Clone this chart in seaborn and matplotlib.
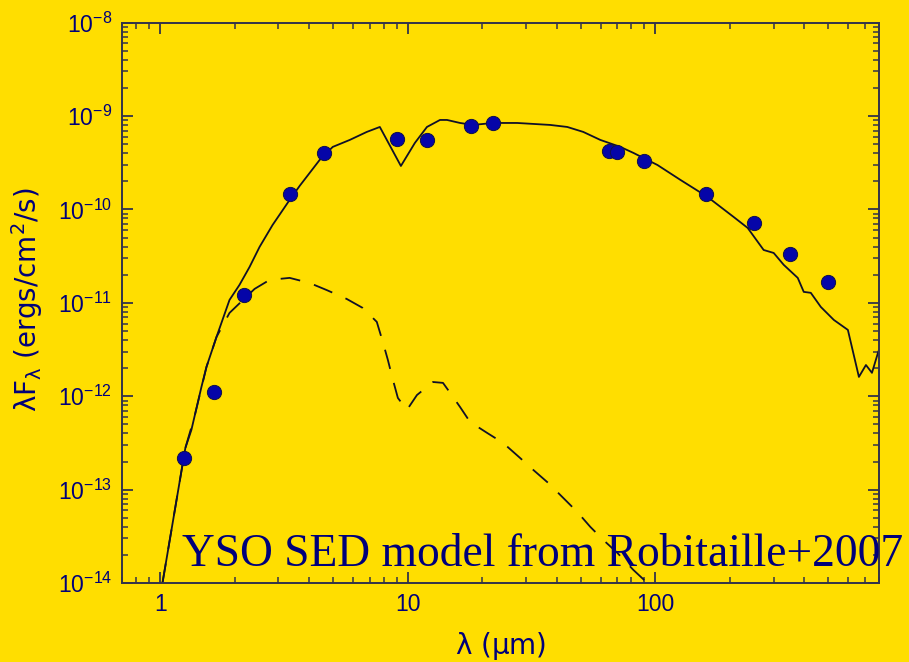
import numpy as np
import pandas as pd
import matplotlib
matplotlib.use("Agg")
import matplotlib.pyplot as plt
import seaborn as sns
from matplotlib.ticker import LogLocator, NullFormatter, FuncFormatter

# ---- data ----
obs_wavelength = [1.25, 1.65, 2.17, 3.35, 4.6, 9.0, 12.0, 18.0, 22.0,
                  65.0, 70.0, 90.0, 160.0, 250.0, 350.0, 500.0]
obs_flux = [2.2e-13, 1.1e-12, 1.22e-11, 1.47e-10, 4.0e-10, 5.7e-10, 5.5e-10,
            7.8e-10, 8.4e-10, 4.2e-10, 4.1e-10, 3.3e-10, 1.47e-10, 7.2e-11,
            3.3e-11, 1.67e-11]

model_wavelength = [1.02, 1.262, 1.335, 1.373, 1.466, 1.536, 1.686, 1.903, 2.088,
                    2.293, 2.517, 2.841, 3.329, 3.654, 4.402, 4.97, 5.825, 6.823,
                    7.703, 9.37, 10.67, 11.94, 13.48, 14.39, 16.24, 18.33, 22.09,
                    27.62, 37.57, 44.03, 51.1, 59.89, 72.17, 81.46, 101.9, 126.2,
                    162.4, 206.9, 235.8, 273.6, 300.4, 329.8, 375.7, 397.3, 424.2,
                    465.6, 525.6, 598.9, 663.6, 708.5, 749.2, 792.2, 800.0]
model_flux = [1.0e-14, 2.79e-13, 4.36e-13, 6.0e-13, 1.26e-12, 2.06e-12, 4.31e-12,
              1.074e-11, 1.556e-11, 2.42e-11, 3.97e-11, 6.82e-11, 1.264e-10,
              1.786e-10, 3.39e-10, 4.67e-10, 5.55e-10, 6.76e-10, 7.64e-10,
              2.92e-10, 5.15e-10, 7.64e-10, 9.08e-10, 9.08e-10, 8.43e-10,
              8.03e-10, 8.43e-10, 8.43e-10, 8.03e-10, 7.64e-10, 6.76e-10,
              5.55e-10, 4.67e-10, 4.03e-10, 2.99e-10, 2.07e-10, 1.36e-10,
              8.31e-11, 6.34e-11, 3.68e-11, 3.42e-11, 2.55e-11, 1.85e-11,
              1.31e-11, 1.28e-11, 9.04e-12, 6.56e-12, 5.13e-12, 1.61e-12,
              2.16e-12, 1.78e-12, 2.91e-12, 3.13e-12]

star_wavelength = [1.02, 1.262, 1.373, 1.536, 1.686, 1.903, 2.403, 2.763, 3.329,
                   4.011, 4.699, 5.663, 6.574, 7.489, 7.92, 8.3, 8.7, 9.11, 9.91,
                   10.88, 12.63, 13.86, 14.52, 16.24, 17.82, 20.89, 24.25, 28.41,
                   32.07, 36.88, 42.42, 48.33, 54.57, 61.58, 70.2, 81.46, 92.8,
                   104.8]
star_flux = [1.0e-14, 2.79e-13, 6.0e-13, 2.06e-12, 4.31e-12, 7.8e-12, 1.41e-11,
             1.76e-11, 1.85e-11, 1.63e-11, 1.37e-11, 1.1e-11, 8.81e-12, 6.25e-12,
             3.81e-12, 2.45e-12, 1.5e-12, 9.59e-13, 7.13e-13, 1.03e-12, 1.42e-12,
             1.39e-12, 1.17e-12, 7.68e-13, 5.31e-13, 4.05e-13, 3.16e-13, 2.18e-13,
             1.63e-13, 1.18e-13, 8.15e-14, 5.77e-14, 3.99e-14, 2.89e-14, 2.1e-14,
             1.38e-14, 1.0e-14, 7.1e-15]

title_text = "YSO SED model from Robitaille+2007"

# ---- style ----
sns.set_theme(style="ticks")
BG = "#FFDE00"
NAVY = "#00007A"
plt.rcParams["font.family"] = ["Liberation Sans", "DejaVu Sans"]
plt.rcParams["mathtext.fontset"] = "custom"
plt.rcParams["mathtext.rm"] = "Liberation Sans"
plt.rcParams["mathtext.it"] = "Liberation Sans:italic"
plt.rcParams["mathtext.bf"] = "Liberation Sans:bold"
plt.rcParams["mathtext.default"] = "regular"

fig = plt.figure(figsize=(9.09, 6.62), dpi=100, facecolor=BG)
ax = fig.add_axes([0.1342, 0.1193, 0.8328, 0.8465])
ax.set_facecolor(BG)

df_model = pd.DataFrame({"wl": model_wavelength, "flux": model_flux})
df_star = pd.DataFrame({"wl": star_wavelength, "flux": star_flux})
df_obs = pd.DataFrame({"wl": obs_wavelength, "flux": obs_flux})

sns.lineplot(data=df_model, x="wl", y="flux", sort=False, estimator=None,
             color="#101028", lw=1.3, ax=ax)
sns.lineplot(data=df_star, x="wl", y="flux", sort=False, estimator=None,
             color="#101028", lw=1.3, linestyle=(0, (11, 8)), ax=ax)
sns.scatterplot(data=df_obs, x="wl", y="flux", s=105, color="#0505A8",
                edgecolor="#10104A", linewidth=0.7, zorder=5, ax=ax)

ax.set_xscale("log")
ax.set_yscale("log")
ax.set_xlim(0.7, 800)
ax.set_ylim(1e-14, 1e-8)

ax.xaxis.set_major_locator(LogLocator(base=10, numticks=10))
ax.xaxis.set_minor_locator(LogLocator(base=10, subs=np.arange(2, 10), numticks=20))
ax.yaxis.set_major_locator(LogLocator(base=10, numticks=10))
ax.yaxis.set_minor_locator(LogLocator(base=10, subs=np.arange(2, 10), numticks=20))
ax.xaxis.set_minor_formatter(NullFormatter())
ax.yaxis.set_minor_formatter(NullFormatter())
ax.xaxis.set_major_formatter(FuncFormatter(lambda v, p: f"{v:g}"))

spine_col = "#33334A"
for s in ax.spines.values():
    s.set_color(spine_col)
    s.set_linewidth(1.4)

ax.tick_params(which="both", direction="in", top=True, right=True,
               color=spine_col, labelcolor=NAVY, labelsize=16.5)
ax.tick_params(which="major", length=8, width=1.3, pad=7)
ax.tick_params(which="minor", length=4.5, width=1.1)

ax.set_xlabel("λ ($\\mu$m)", fontsize=20, color=NAVY,
              family=["DejaVu Sans"], math_fontfamily="dejavusans")
ax.set_ylabel("λF$_{λ}$ (ergs/cm$^{2}$/s)", fontsize=20, color=NAVY,
              family=["DejaVu Sans"], math_fontfamily="dejavusans")
ax.xaxis.set_label_coords(0.5, -0.083)
ax.yaxis.set_label_coords(-0.102, 0.505)

fig.text(0.2002, 0.145, title_text, fontsize=32.8, color=NAVY,
         family=["Liberation Serif", "DejaVu Serif"], ha="left", va="baseline")

fig.savefig("out.png", dpi=100, facecolor=BG)
